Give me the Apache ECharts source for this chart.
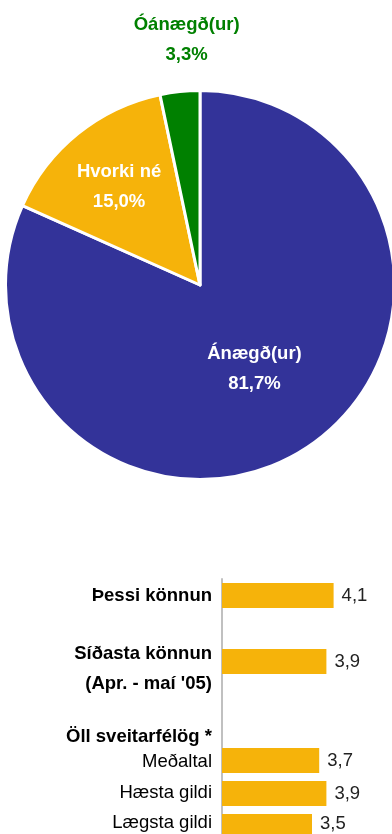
<!DOCTYPE html>
<html>
<head>
<meta charset="utf-8">
<script src="https://cdn.jsdelivr.net/npm/echarts@6/dist/echarts.min.js"></script>
<style>
  html, body { margin: 0; padding: 0; background: #fff; }
  #chart { width: 392px; height: 834px; }
</style>
</head>
<body>
<div id="chart"></div>
<script>
// Satisfaction shares (percent)
const pieNames = ['Ánægð(ur)', 'Hvorki né', 'Óánægð(ur)'];
const pieValues = [81.7, 15.0, 3.3];

// Average scores; header and spacer rows carry no bar
const barCategories = ['Þessi könnun', ' ', 'Síðasta könnun\n(Apr. - maí \'05)', '  ', 'Öll sveitarfélög *', 'Meðaltal', 'Hæsta gildi', 'Lægsta gildi'];
const barValues = [4.1, null, 3.9, null, null, 3.7, 3.9, 3.5];

const pieColors = ['#333399', '#F6B30A', '#008000'];
const pieLabelColors = ['#ffffff', '#ffffff', '#008000'];
const pieLabelShift = [[0, 0], [-18, -20], [-3, -145]];

// row label styling: bold rows, and vertical nudge (px, + = down) per row
const boldRows = { 0: true, 2: true, 4: true };
const rowNudge = { 2: 7, 4: 9, 5: 1, 6: -1, 7: -4 };
const valueNudge = { 7: -3 };

const fmt = v => v.toFixed(1).replace('.', ',');
const font = "'Liberation Sans', Arial, sans-serif";

// build a rich-text row label; an invisible spacer line shifts the block
function rowLabel(value, index) {
  const style = boldRows[index] ? 'b' : 'n';
  const body = String(value).split('\n').map(t => '{' + style + '|' + t + '}').join('\n');
  const nudge = rowNudge[index] || 0;
  if (nudge > 0) return '{g' + (2 * nudge) + '| }\n' + body;
  if (nudge < 0) return body + '\n{g' + (-2 * nudge) + '| }';
  return body;
}
const rich = {
  b: { fontWeight: 'bold', fontSize: 18.5, lineHeight: 30, color: '#000', fontFamily: font },
  n: { fontWeight: 'normal', fontSize: 18.5, lineHeight: 30, color: '#000', fontFamily: font }
};
Object.values(rowNudge).forEach(n => {
  const h = Math.abs(2 * n);
  rich['g' + h] = { fontSize: 1, lineHeight: h, height: h };
});

const chart = echarts.init(document.getElementById('chart'), null, { renderer: 'canvas' });

chart.setOption({
  animation: false,
  textStyle: { fontFamily: font },
  // the last row runs past the bottom edge, so keep the grid unconstrained
  grid: { left: 222, top: 579, width: 144, height: 264, containLabel: false, outerBoundsMode: 'none' },
  xAxis: { type: 'value', min: 1, max: 5, show: false },
  yAxis: {
    type: 'category',
    inverse: true,
    data: barCategories,
    axisLine: { show: true, lineStyle: { color: '#c0c0c0', width: 2 } },
    axisTick: { show: false },
    splitLine: { show: false },
    axisLabel: { margin: 10, interval: 0, formatter: rowLabel, rich: rich }
  },
  series: [
    {
      type: 'pie',
      center: [200, 285],
      radius: 194.5,
      startAngle: 90,
      clockwise: true,
      silent: true,
      itemStyle: { borderColor: '#ffffff', borderWidth: 3 },
      label: {
        show: true,
        position: 'inside',
        fontFamily: font,
        fontSize: 18.5,
        fontWeight: 'bold',
        lineHeight: 30,
        align: 'center',
        formatter: p => p.name + '\n' + fmt(p.value) + '%'
      },
      labelLine: { show: false },
      labelLayout: p => ({ dx: pieLabelShift[p.dataIndex][0], dy: pieLabelShift[p.dataIndex][1] }),
      data: pieNames.map((n, i) => ({
        name: n,
        value: pieValues[i],
        itemStyle: { color: pieColors[i] },
        label: { color: pieLabelColors[i] }
      }))
    },
    {
      type: 'bar',
      barWidth: 25,
      silent: true,
      itemStyle: { color: '#F6B30A' },
      label: {
        show: true,
        position: 'right',
        distance: 8,
        color: '#222',
        fontSize: 18.5,
        fontFamily: font,
        formatter: p => fmt(p.value)
      },
      data: barValues.map((v, i) => (v == null ? '-' : {
        value: v,
        label: { offset: [0, valueNudge[i] || 0] }
      }))
    }
  ]
});
</script>
</body>
</html>
